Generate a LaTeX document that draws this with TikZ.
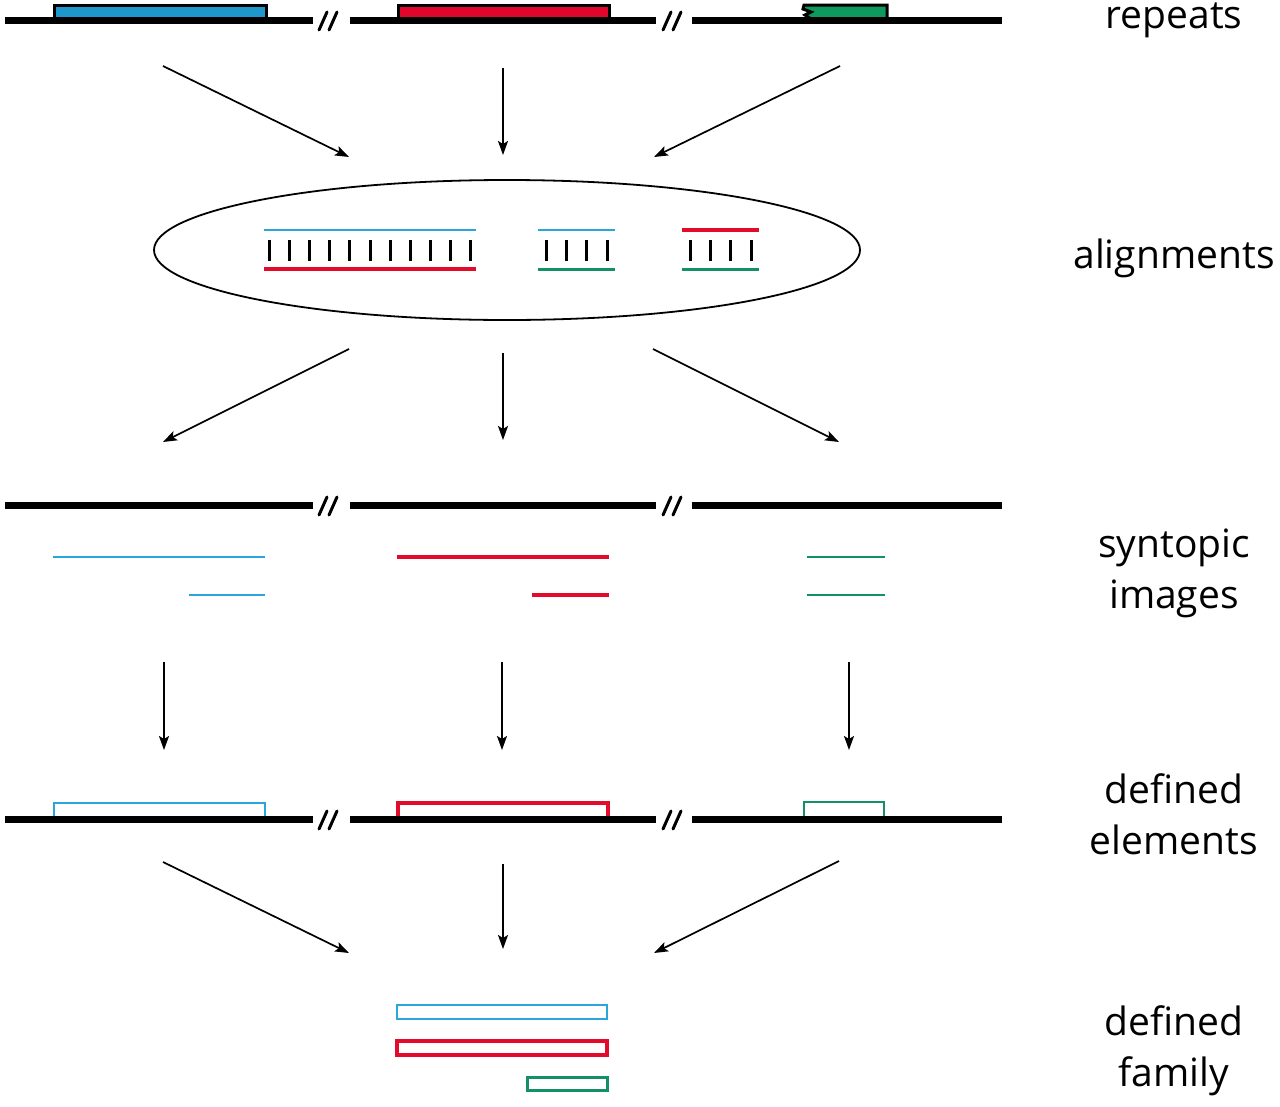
\documentclass[tikz,border=0pt]{standalone}
\usepackage{fontspec}
\setmainfont{Open Sans}
\usetikzlibrary{arrows.meta,shapes.geometric}
\definecolor{cbluef}{HTML}{1E97CC}
\definecolor{credf}{HTML}{E2062C}
\definecolor{cgreenf}{HTML}{0E9A5C}
\definecolor{cblue}{HTML}{2AA6DC}
\definecolor{cred}{HTML}{E30B2B}
\definecolor{cgreen}{HTML}{139068}
\newcommand\drawchrom[1]{%
  \draw[chrom] (5,#1) -- (313,#1);
  \draw[chrom] (350,#1) -- (656,#1);
  \draw[chrom] (692,#1) -- (1002,#1);
  \draw[brk] (319,{#1+10}) -- (327,{#1-8});
  \draw[brk] (329,{#1+10}) -- (337,{#1-8});
  \draw[brk] (663,{#1+10}) -- (671,{#1-8});
  \draw[brk] (673,{#1+10}) -- (681,{#1-8});
}
\begin{document}
\begin{tikzpicture}[x=1pt,y=-1pt,
  chrom/.style={line width=7pt},
  brk/.style={line width=3pt,line cap=round},
  arr/.style={line width=1.7pt,-{Stealth[length=14pt,width=10pt,inset=3pt]}},
  lab/.style={font=\fontsize{39}{52}\selectfont, anchor=base},
  tick/.style={line width=3pt}]
\useasboundingbox[fill=white] (0,0) rectangle (1280,1106);

% ---------- repeats row ----------
\draw[line width=3pt, fill=cbluef] (54,5) rectangle (266,19);
\draw[line width=3pt, fill=credf] (398,5) rectangle (609,19);
\draw[line width=3pt, fill=cgreenf] (804,5) -- (887,5) -- (887,19) -- (811,19)
   -- (805,15) -- (811,12) -- (803,9) -- cycle;
\drawchrom{20}

% ---------- arrows 1 ----------
\coordinate (a1s) at (163,66);  \coordinate (a1e) at (349,157);
\coordinate (a2s) at (503,68);  \coordinate (a2e) at (503,155);
\coordinate (a3s) at (840,66);  \coordinate (a3e) at (654,157);
\draw[arr] (a1s) -- (a1e);
\draw[arr] (a2s) -- (a2e);
\draw[arr] (a3s) -- (a3e);

% ---------- alignments ----------
\node[draw, ellipse, line width=1.8pt, minimum width=706pt, minimum height=140pt, inner sep=0pt] (aln) at (507,250) {};
\draw[cblue, line width=2.8pt] (264,230) -- (476,230);
\draw[cred, line width=3.6pt] (264,269) -- (476,269);
\foreach \i in {0,...,10} \draw[tick] ({269.5+20.1*\i},240) -- ({269.5+20.1*\i},261);
\draw[cblue, line width=2.8pt] (538,230) -- (615,230);
\draw[cgreen, line width=3pt] (538,269) -- (615,269);
\foreach \i in {0,...,3} \draw[tick] ({546+20.4*\i},240) -- ({546+20.4*\i},261);
\draw[cred, line width=3.6pt] (682,230) -- (759,230);
\draw[cgreen, line width=3pt] (682,269) -- (759,269);
\foreach \i in {0,...,3} \draw[tick] ({690.5+20.2*\i},240) -- ({690.5+20.2*\i},261);

% ---------- arrows 2 ----------
\coordinate (b1s) at (349,349);  \coordinate (b1e) at (163,442);
\coordinate (b2s) at (503,353);  \coordinate (b2e) at (503,440);
\coordinate (b3s) at (653,349);  \coordinate (b3e) at (839,442);
\draw[arr] (b1s) -- (b1e);
\draw[arr] (b2s) -- (b2e);
\draw[arr] (b3s) -- (b3e);

% ---------- syntopic images ----------
\drawchrom{505}
\draw[cblue, line width=2.6pt] (53,557) -- (265,557);
\draw[cblue, line width=2.6pt] (189,595) -- (265,595);
\draw[cred, line width=3.2pt] (397,557) -- (609,557);
\draw[cred, line width=3.2pt] (532,595) -- (609,595);
\draw[cgreen, line width=2.8pt] (807,557) -- (885,557);
\draw[cgreen, line width=2.8pt] (807,595) -- (885,595);

% ---------- arrows 3 ----------
\coordinate (c1s) at (164,662);  \coordinate (c1e) at (164,750);
\coordinate (c2s) at (502,662);  \coordinate (c2e) at (502,750);
\coordinate (c3s) at (849,662);  \coordinate (c3e) at (849,750);
\draw[arr] (c1s) -- (c1e);
\draw[arr] (c2s) -- (c2e);
\draw[arr] (c3s) -- (c3e);

% ---------- defined elements ----------
\draw[cblue, line width=2.6pt] (54,818) |- (265,803) -- (265,818);
\draw[cred, line width=3.6pt] (398,818) |- (608,803) -- (608,818);
\draw[cgreen, line width=2.8pt] (804,818) |- (884,802) -- (884,818);
\drawchrom{819}

% ---------- arrows 4 ----------
\coordinate (d1s) at (163,862);  \coordinate (d1e) at (349,953);
\coordinate (d2s) at (503,864);  \coordinate (d2e) at (503,949);
\coordinate (d3s) at (839,861);  \coordinate (d3e) at (654,953);
\draw[arr] (d1s) -- (d1e);
\draw[arr] (d2s) -- (d2e);
\draw[arr] (d3s) -- (d3e);

% ---------- defined family ----------
\draw[cblue, line width=2.6pt] (397,1005) rectangle (607,1019);
\draw[cred, line width=4pt] (397,1041) rectangle (607,1055);
\draw[cgreen, line width=3pt] (527,1077) rectangle (607,1090);

% ---------- labels ----------
\node[lab] (l1) at (1174,28) {repeats};
\node[lab] (l2) at (1174,268) {alignments};
\node[lab] (l3) at (1174,557) {syntopic};
\node[lab] (l4) at (1174,608) {images};
\node[lab] (l5) at (1174,803) {defined};
\node[lab] (l6) at (1174,854) {elements};
\node[lab] (l7) at (1174,1035) {defined};
\node[lab] (l8) at (1174,1086) {family};
\end{tikzpicture}
\end{document}
